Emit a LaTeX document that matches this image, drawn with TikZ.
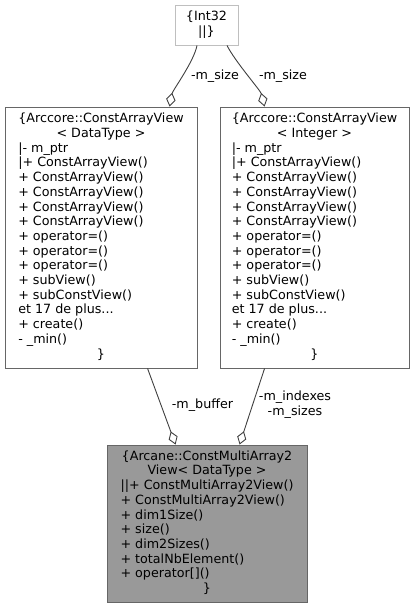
\documentclass[tikz,border=0pt]{standalone}
\usepackage{fontspec}
\setmainfont{DejaVu Sans}
\usetikzlibrary{arrows.meta}
\definecolor{edgec}{HTML}{404040}
\definecolor{boxc}{HTML}{666666}
\definecolor{lightc}{HTML}{BFBFBF}
\definecolor{fillc}{HTML}{999999}
\tikzset{
  x=1bp, y=-1bp,
  umlbox/.style={draw=boxc, line width=0.9bp, fill=white, inner sep=0pt, align=center,
    font=\fontsize{12.7bp}{14.7bp}\selectfont},
  extbox/.style={umlbox, draw=lightc},
  mainbox/.style={umlbox, fill=fillc},
  edge/.style={draw=edgec, line width=0.9bp, {Diamond[open, length=14bp, width=9.5bp, fill=white]}-},
  lbl/.style={inner sep=0pt, align=center, font=\fontsize{12.7bp}{14.7bp}\selectfont},
}
\newcommand{\cl}[1]{\multicolumn{1}{@{}c@{}}{#1}}
\begin{document}
\begin{tikzpicture}
\useasboundingbox (0,0) rectangle (416,608);
\node[extbox, minimum width=63bp, minimum height=40bp] (int) at (206.5,25)
  {\begin{tabular}{@{}c@{}}\{Int32\\||\}\end{tabular}};
\node[umlbox, minimum width=192bp, minimum height=261bp] (left) at (101,237.5)
  {\begin{tabular}{@{}l@{}}
  \cl{\{Arccore::ConstArrayView}\\
  \cl{< DataType >}\\
  |- m\_ptr\\
  |+ ConstArrayView()\\
  + ConstArrayView()\\
  + ConstArrayView()\\
  + ConstArrayView()\\
  + ConstArrayView()\\
  + operator=()\\
  + operator=()\\
  + operator=()\\
  + subView()\\
  + subConstView()\\
  et 17 de plus...\\
  + create()\\
  - \_min()\\
  \cl{\}}
  \end{tabular}};
\node[umlbox, minimum width=189bp, minimum height=261bp] (right) at (314.5,237.5)
  {\begin{tabular}{@{}l@{}}
  \cl{\{Arccore::ConstArrayView}\\
  \cl{< Integer >}\\
  |- m\_ptr\\
  |+ ConstArrayView()\\
  + ConstArrayView()\\
  + ConstArrayView()\\
  + ConstArrayView()\\
  + ConstArrayView()\\
  + operator=()\\
  + operator=()\\
  + operator=()\\
  + subView()\\
  + subConstView()\\
  et 17 de plus...\\
  + create()\\
  - \_min()\\
  \cl{\}}
  \end{tabular}};
\node[mainbox, minimum width=200bp, minimum height=157bp] (main) at (207,523.5)
  {\begin{tabular}{@{}l@{}}
  \cl{\{Arcane::ConstMultiArray2}\\
  \cl{View< DataType >}\\
  ||+ ConstMultiArray2View()\\
  + ConstMultiArray2View()\\
  + dim1Size()\\
  + size()\\
  + dim2Sizes()\\
  + totalNbElement()\\
  + operator[]()\\
  \cl{\}}
  \end{tabular}};
% edges
\draw[edge] ([xshift=165bp]left.north west) .. controls +(3,-16) and +(-3,16) .. ([xshift=-9.5bp]int.south);
\draw[edge] ([xshift=45bp]right.north west) .. controls +(-4,-16) and +(8,16) .. ([xshift=20.5bp]int.south);
\draw[edge] ([xshift=69bp]main.north west) -- ([xshift=143bp]left.south west);
\draw[edge] ([xshift=133bp]main.north west) -- ([xshift=45bp]right.south west);
% labels
\node[lbl] (l1) at (215,76) {-m\_size};
\node[lbl] (l2) at (283,76) {-m\_size};
\node[lbl] (l3) at (202.5,405) {-m\_buffer};
\node[lbl] (l4) at (295,405) {-m\_indexes\\-m\_sizes};
\end{tikzpicture}
\end{document}
